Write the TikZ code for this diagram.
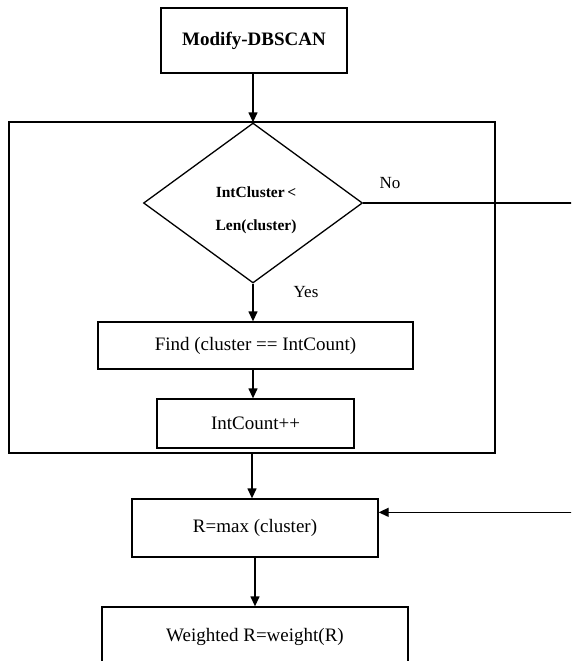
\documentclass[tikz,border=0pt]{standalone}
\usepackage{fontspec}
\setmainfont{Liberation Serif}
\usetikzlibrary{arrows.meta,shapes.geometric}
\begin{document}
\begin{tikzpicture}[x=1pt,y=-1pt,line width=1.3pt,
  box/.style={draw,rectangle,inner sep=0pt,font=\fontsize{19}{22}\selectfont},
  arr/.style={-{Triangle[length=10pt,width=9pt]}},
  lbl/.style={inner sep=0pt,font=\fontsize{17}{20}\selectfont}]
\useasboundingbox (0,0) rectangle (571,661);
\clip (0,0) rectangle (571,661);
\node[box,minimum width=186pt,minimum height=65pt,font=\bfseries\fontsize{19}{22}\selectfont] (top) at (254,40.5) {Modify-DBSCAN};
\node[draw,rectangle,inner sep=0pt,minimum width=486pt,minimum height=331pt] (loop) at (252,287.5) {};
\node[draw,diamond,inner sep=0pt,minimum width=219pt,minimum height=160pt] (dec) at (253,203) {};
\node[inner sep=0pt,align=center,font=\bfseries\fontsize{15.5}{33}\selectfont] (dectext) at (256,210) {IntCluster\,<\\Len(cluster)};
\node[lbl] (no) at (390,183) {No};
\node[lbl] (yes) at (306,292) {Yes};
\node[box,minimum width=315pt,minimum height=47pt] (find) at (255.5,345.5) {Find (cluster == IntCount)};
\node[box,minimum width=197pt,minimum height=49pt] (intc) at (255.5,423.5) {IntCount++};
\node[box,minimum width=246pt,minimum height=58pt] (rmax) at (255,528) {R=max (cluster)};
\node[box,minimum width=306pt,minimum height=60pt] (wt) at (255,637) {Weighted R=weight(R)};
\draw[arr] (top.south -| dec.north) -- (dec.north);
\draw[arr] (dec.south) -- (dec.south |- find.north);
\draw[arr] (find.south -| dec.south) -- (intc.north -| dec.south);
\draw[arr] (loop.south) -- (loop.south |- rmax.north);
\draw[arr] (rmax.south) -- (wt.north);
\draw[arr] (dec.east) -- (600,203) |- ([yshift=-14pt]rmax.north east);
\end{tikzpicture}
\end{document}
